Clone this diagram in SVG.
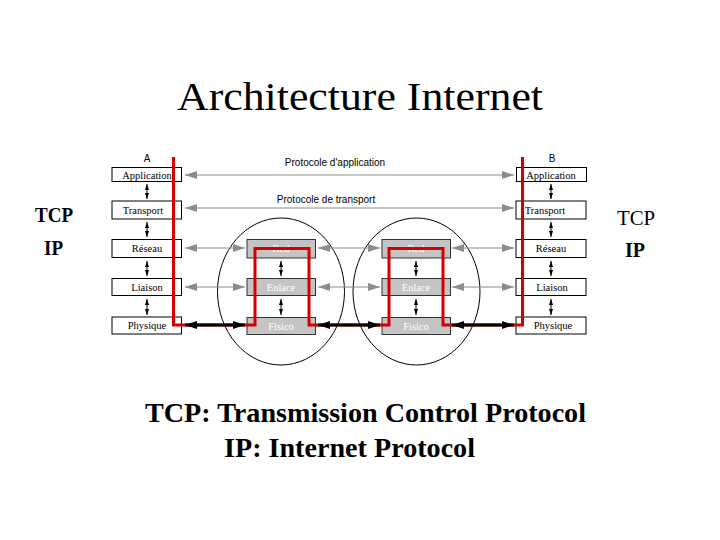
<svg xmlns="http://www.w3.org/2000/svg" width="720" height="540" viewBox="0 0 720 540">
<style>
.box{fill:#fff;stroke:#000;stroke-width:1}
.gbox{fill:#c4c4c4;stroke:#333;stroke-width:1}
.bt{font-family:"Liberation Serif",serif;font-size:10.5px;text-anchor:middle;fill:#000}
.gt{font-family:"Liberation Serif",serif;font-size:10.5px;text-anchor:middle;fill:#fff}
.st{font-family:"Liberation Sans",sans-serif;font-size:10px;text-anchor:middle;fill:#000}
.big{font-family:"Liberation Serif",serif;fill:#000}
.garr{stroke:#8c8c8c;stroke-width:1.2;fill:none;marker-start:url(#ga);marker-end:url(#ga)}
.barr{stroke:#000;stroke-width:3;fill:none;marker-start:url(#ba);marker-end:url(#ba)}
.varr{stroke:#000;stroke-width:1;fill:none;marker-start:url(#va);marker-end:url(#va)}
</style>
<defs>
<marker id="ga" markerUnits="userSpaceOnUse" viewBox="0 0 12 8" refX="12" refY="4" markerWidth="12" markerHeight="8" orient="auto-start-reverse"><path d="M0,0 L12,4 L0,8 z" fill="#8c8c8c"/></marker>
<marker id="ba" markerUnits="userSpaceOnUse" viewBox="0 0 12 8" refX="12" refY="4" markerWidth="12" markerHeight="8" orient="auto-start-reverse"><path d="M0,0 L12,4 L0,8 z" fill="#000"/></marker>
<marker id="va" markerUnits="userSpaceOnUse" viewBox="0 0 6 4" refX="6" refY="2" markerWidth="6" markerHeight="4" orient="auto-start-reverse"><path d="M0,0 L6,2 L0,4 z" fill="#000"/></marker>
</defs>
<rect width="720" height="540" fill="#fff"/>
<text class="big" x="360" y="110" font-size="40" text-anchor="middle" textLength="366" lengthAdjust="spacingAndGlyphs">Architecture Internet</text>

<g id="circles" fill="none" stroke="#000" stroke-width="1">
<ellipse cx="281" cy="291.5" rx="63.5" ry="73.5"/>
<ellipse cx="416.5" cy="291.5" rx="63.5" ry="73.5"/>
</g>

<g id="connectors">
<line class="garr" x1="185" y1="175" x2="514" y2="175"/>
<line class="garr" x1="185" y1="208" x2="514" y2="208"/>
<line class="garr" x1="185" y1="248" x2="245" y2="248"/>
<line class="garr" x1="318" y1="248" x2="380" y2="248"/>
<line class="garr" x1="452" y1="248" x2="514" y2="248"/>
<line class="garr" x1="185" y1="287" x2="245" y2="287"/>
<line class="garr" x1="318" y1="287" x2="380" y2="287"/>
<line class="garr" x1="452" y1="287" x2="514" y2="287"/>
<line class="varr" x1="147" y1="184" x2="147" y2="199"/>
<line class="varr" x1="147" y1="222" x2="147" y2="237"/>
<line class="varr" x1="147" y1="261" x2="147" y2="276"/>
<line class="varr" x1="147" y1="299" x2="147" y2="315"/>
<line class="varr" x1="551" y1="184" x2="551" y2="199"/>
<line class="varr" x1="551" y1="222" x2="551" y2="237"/>
<line class="varr" x1="551" y1="261" x2="551" y2="276"/>
<line class="varr" x1="551" y1="299" x2="551" y2="315"/>
<line class="varr" x1="281" y1="261" x2="281" y2="276"/>
<line class="varr" x1="281" y1="299" x2="281" y2="315"/>
<line class="varr" x1="416" y1="261" x2="416" y2="276"/>
<line class="varr" x1="416" y1="299" x2="416" y2="315"/>
</g>

<g id="A">
<text class="st" x="147" y="162">A</text>
<rect class="box" x="112" y="167.5" width="69.5" height="14"/><text class="bt" x="147" y="178.5">Application</text>
<rect class="box" x="112" y="201" width="69.5" height="18"/><text class="bt" x="143" y="213.5">Transport</text>
<rect class="box" x="112" y="239.5" width="69.5" height="18"/><text class="bt" x="147" y="252">Réseau</text>
<rect class="box" x="112" y="278.5" width="69.5" height="17"/><text class="bt" x="147" y="290.5">Liaison</text>
<rect class="box" x="112" y="317" width="69.5" height="17"/><text class="bt" x="147" y="329">Physique</text>
</g>

<g id="R1">
<rect class="gbox" x="247" y="239.5" width="68.5" height="18.5"/><text class="gt" x="281" y="252">Red</text>
<rect class="gbox" x="247" y="278.5" width="68.5" height="17"/><text class="gt" x="281" y="290.5">Enlace</text>
<rect class="gbox" x="247" y="317.5" width="68.5" height="17"/><text class="gt" x="281" y="329.5">Fisico</text>
</g>

<g id="R2">
<rect class="gbox" x="382" y="239.5" width="68.5" height="18.5"/><text class="gt" x="416" y="252">Red</text>
<rect class="gbox" x="382" y="278.5" width="68.5" height="17"/><text class="gt" x="416" y="290.5">Enlace</text>
<rect class="gbox" x="382" y="317.5" width="68.5" height="17"/><text class="gt" x="416" y="329.5">Fisico</text>
</g>

<g id="B">
<text class="st" x="552" y="162">B</text>
<rect class="box" x="516.5" y="167.5" width="70" height="14"/><text class="bt" x="551" y="178.5">Application</text>
<rect class="box" x="516" y="201" width="70" height="18"/><text class="bt" x="545" y="213.5">Transport</text>
<rect class="box" x="516" y="239.5" width="70" height="18"/><text class="bt" x="551" y="252">Réseau</text>
<rect class="box" x="516" y="278.5" width="70" height="17"/><text class="bt" x="552" y="290.5">Liaison</text>
<rect class="box" x="516" y="317" width="70" height="17"/><text class="bt" x="553" y="329">Physique</text>
</g>

<g id="labels">
<text class="st" x="335" y="166">Protocole d'application</text>
<text class="st" x="326" y="203">Protocole de transport</text>
</g>

<g id="path" fill="none" stroke="#d40000" stroke-width="3" stroke-linejoin="miter">
<path d="M173.5,157 V325 H255 V248.5 H309 V325 H389 V248.5 H443 V325 H522.5 V157"/>
</g>

<g id="phys">
<line class="barr" x1="185" y1="325" x2="245" y2="325"/>
<line class="barr" x1="318" y1="325" x2="380" y2="325"/>
<line class="barr" x1="452" y1="325" x2="514" y2="325"/>
</g>

<g id="side">
<text class="big" x="35" y="221.5" font-size="20" font-weight="bold" textLength="38" lengthAdjust="spacingAndGlyphs">TCP</text>
<text class="big" x="44" y="255" font-size="20" font-weight="bold" textLength="19" lengthAdjust="spacingAndGlyphs">IP</text>
<text class="big" x="617" y="225" font-size="20" textLength="38" lengthAdjust="spacingAndGlyphs">TCP</text>
<text class="big" x="625" y="257" font-size="20" font-weight="bold" textLength="20" lengthAdjust="spacingAndGlyphs">IP</text>
</g>

<g id="legend">
<text class="big" x="145" y="422" font-size="28" font-weight="bold" textLength="441" lengthAdjust="spacingAndGlyphs">TCP: Transmission Control Protocol</text>
<text class="big" x="224" y="457" font-size="28" font-weight="bold" textLength="251" lengthAdjust="spacingAndGlyphs">IP: Internet Protocol</text>
</g>
</svg>
